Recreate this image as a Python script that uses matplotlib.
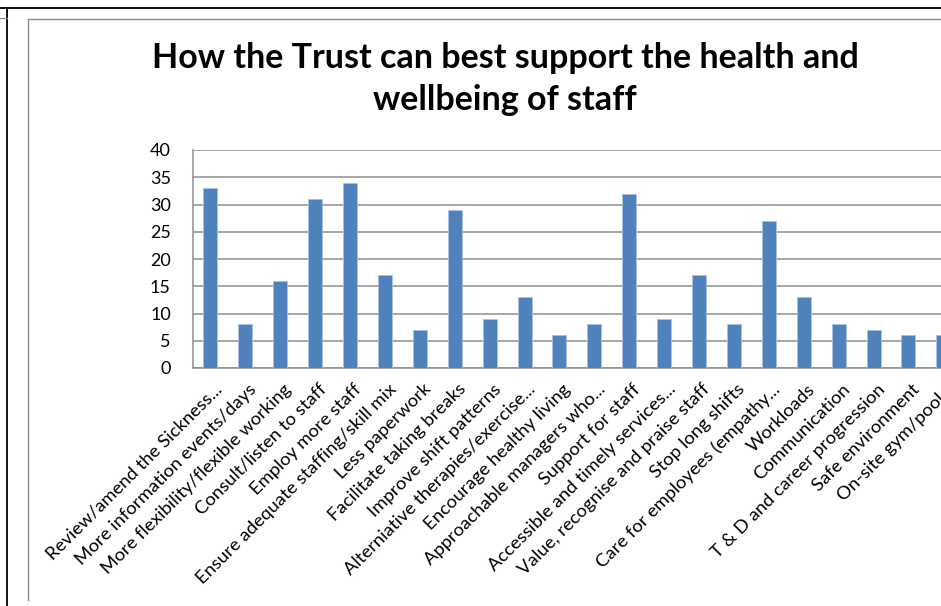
import matplotlib.pyplot as plt
from matplotlib.lines import Line2D
from matplotlib.transforms import ScaledTranslation

categories = [
    "Review/amend the Sickness...",
    "More information events/days",
    "More flexibility/flexible working",
    "Consult/listen to staff",
    "Employ more staff",
    "Ensure adequate staffing/skill mix",
    "Less paperwork",
    "Facilitate taking breaks",
    "Improve shift patterns",
    "Alterniative therapies/exercise...",
    "Encourage healthy living",
    "Approachable managers who...",
    "Support for staff",
    "Accessible and timely services...",
    "Value, recognise and praise staff",
    "Stop long shifts",
    "Care for employees (empathy...",
    "Workloads",
    "Communication",
    "T & D and career progression",
    "Safe environment",
    "On-site gym/pool...",
]
counts = [33, 8, 16, 31, 34, 17, 7, 29, 9, 13, 6, 8, 32, 9, 17, 8, 27, 13, 8, 7, 6, 6]
yticks = [0, 5, 10, 15, 20, 25, 30, 35, 40]

W, H = 941, 606
plt.rcParams['font.family'] = ['Lato', 'DejaVu Sans']

fig = plt.figure(figsize=(W / 100, H / 100), dpi=100)


def fx(px):
    return px / W


def fy(py):
    return 1 - py / H


# page/table lines around the chart object
fig.add_artist(Line2D([0, 1], [fy(7.5), fy(7.5)], color='black', lw=1.3))
fig.add_artist(Line2D([fx(7), fx(7)], [fy(7.5), 0], color='black', lw=1.3))
fig.add_artist(Line2D([0, fx(7)], [fy(18), fy(18)], color='#8c8c8c', lw=0.9))
# chart area border
fig.add_artist(Line2D([fx(28), fx(28)], [fy(18.5), fy(600)], color='#8c8c8c', lw=1.0))
fig.add_artist(Line2D([fx(28), 1], [fy(18.5), fy(18.5)], color='#8c8c8c', lw=1.0))

fig.text(fx(505), fy(79), "How the Trust can best support the health and\nwellbeing of staff",
         ha='center', va='center', fontsize=24.5, fontweight='bold', linespacing=1.4)

step = 34.9
ax = fig.add_axes([fx(193), fy(368), fx(step * len(categories)), (368 - 150) / H])
x = range(len(categories))
ax.bar(x, counts, width=0.4, color='#4f81bd', edgecolor='#a9c2e3', linewidth=0.6, zorder=3)
ax.set_xlim(-0.5, len(categories) - 0.5)
ax.set_ylim(0, 40)
ax.set_yticks(yticks)
ax.yaxis.grid(True, color='#8e8e8e', linewidth=1.1, zorder=0)
for s in ['top', 'right']:
    ax.spines[s].set_visible(False)
for s in ['left', 'bottom']:
    ax.spines[s].set_color('#8e8e8e')
    ax.spines[s].set_linewidth(1.1)
ax.tick_params(axis='y', length=0, pad=16, labelsize=13)
ax.tick_params(axis='x', length=0, pad=0, labelsize=13.3)
ax.set_xticks(list(x))
ax.set_xticklabels(categories, rotation=45, ha='right', va='top', rotation_mode='anchor')
shift = ScaledTranslation(0.03, -0.13, fig.dpi_scale_trans)
for lbl in ax.get_xticklabels():
    lbl.set_transform(lbl.get_transform() + shift)

fig.savefig('out.png', dpi=100)
